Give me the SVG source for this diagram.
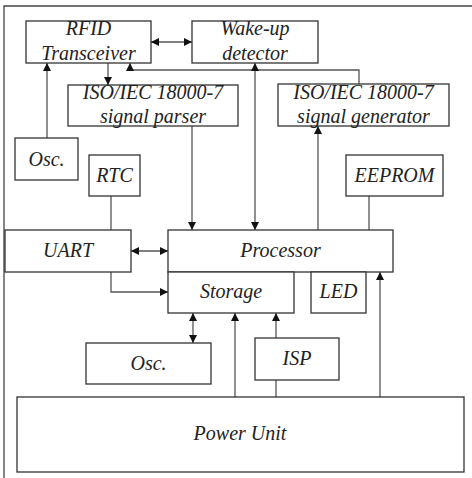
<svg xmlns="http://www.w3.org/2000/svg" width="472" height="478" viewBox="0 0 472 478">
<style>
.box{fill:#fff;stroke:#333;stroke-width:1.3}
.lbl{font-family:"Liberation Serif","Times New Roman","DejaVu Serif",serif;font-style:italic;font-size:20px;fill:#222;text-anchor:middle}
.c{fill:none;stroke:#555;stroke-width:1.3}
.e{marker-end:url(#ah)}
.b{marker-start:url(#ah);marker-end:url(#ah)}
</style>
<defs>
<marker id="ah" viewBox="0 0 10 10" refX="10" refY="5" markerUnits="userSpaceOnUse" markerWidth="10" markerHeight="8" orient="auto-start-reverse">
<path d="M0,0 L10,5 L0,10 z" fill="#111"/>
</marker>
</defs>
<rect width="472" height="478" fill="#fff"/>
<path d="M4,478 V6 H472" fill="none" stroke="#444" stroke-width="1.3"/>
<g id="connectors">
<path class="c b" d="M151,42 H192"/>
<path class="c e" d="M108,63 V85"/>
<path class="c e" d="M359,84 V70 H130 V63"/>
<path class="c b" d="M255,63 V230"/>
<path class="c e" d="M318,230 V126"/>
<path class="c" d="M369,196 V230"/>
<path class="c e" d="M47,138 V63"/>
<path class="c" d="M111,196 V230"/>
<path class="c e" d="M192,126 V230"/>
<path class="c b" d="M131,251 H168"/>
<path class="c e" d="M111,272 V292 H168"/>
<path class="c b" d="M193,313 V343"/>
<path class="c e" d="M235,397 V313"/>
<path class="c" d="M276,397 V380"/>
<path class="c e" d="M276,338 V313"/>
<path class="c e" d="M380,397 V272"/>
</g>
<g id="rfid"><rect class="box" x="26" y="21" width="125" height="42"/><text class="lbl" x="88.5" y="35">RFID</text><text class="lbl" x="88.5" y="60">Transceiver</text></g>
<g id="wakeup"><rect class="box" x="192" y="21" width="126" height="42"/><text class="lbl" x="255" y="35">Wake-up</text><text class="lbl" x="255" y="60">detector</text></g>
<g id="parser"><rect class="box" x="68" y="85" width="170" height="41"/><text class="lbl" x="153" y="99">ISO/IEC 18000-7</text><text class="lbl" x="153" y="123">signal parser</text></g>
<g id="generator"><rect class="box" x="278" y="84" width="171" height="42"/><text class="lbl" x="363.5" y="99">ISO/IEC 18000-7</text><text class="lbl" x="363.5" y="123">signal generator</text></g>
<g id="osc1"><rect class="box" x="15" y="138" width="63" height="42"/><text class="lbl" x="46.5" y="166">Osc.</text></g>
<g id="rtc"><rect class="box" x="89" y="155" width="51" height="41"/><text class="lbl" x="114.5" y="182">RTC</text></g>
<g id="eeprom"><rect class="box" x="346" y="155" width="97" height="41"/><text class="lbl" x="394.5" y="182">EEPROM</text></g>
<g id="uart"><rect class="box" x="5" y="230" width="126" height="42"/><text class="lbl" x="68" y="257">UART</text></g>
<g id="processor"><rect class="box" x="168" y="230" width="225" height="42"/><text class="lbl" x="280.5" y="257">Processor</text></g>
<g id="storage"><rect class="box" x="168" y="272" width="126" height="41"/><text class="lbl" x="231" y="298">Storage</text></g>
<g id="led"><rect class="box" x="311" y="272" width="55" height="41"/><text class="lbl" x="338.5" y="298">LED</text></g>
<g id="osc2"><rect class="box" x="86" y="343" width="125" height="41"/><text class="lbl" x="148.5" y="370">Osc.</text></g>
<g id="isp"><rect class="box" x="255" y="338" width="84" height="42"/><text class="lbl" x="297" y="365">ISP</text></g>
<g id="power"><rect class="box" x="17" y="397" width="447" height="75"/><text class="lbl" x="240" y="440">Power Unit</text></g>
</svg>
